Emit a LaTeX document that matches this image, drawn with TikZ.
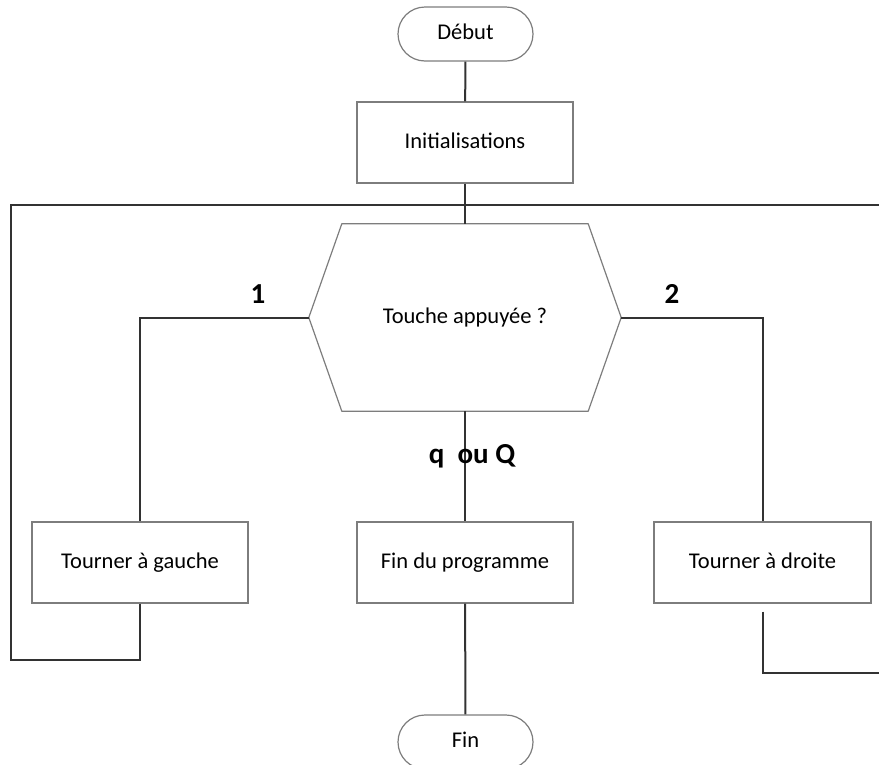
\documentclass[tikz,border=0pt]{standalone}
\usepackage{fontspec}
\setmainfont{Carlito}
\usetikzlibrary{shapes.misc, calc}

\definecolor{contour}{RGB}{125,125,125}
\definecolor{trait}{RGB}{50,50,50}

\tikzset{
  texte/.style={inner sep=0pt, text height=16pt, text depth=5pt, font=\fontsize{22.5}{27}\selectfont},
  boite/.style={texte, draw=contour, line width=1.2pt, minimum width=216pt, minimum height=81pt},
  terminal/.style={texte, rounded rectangle, draw=contour, line width=1.2pt, minimum width=135pt, minimum height=54pt},
  choix/.style={texte, minimum width=312pt, minimum height=187pt},
  cadre/.style={draw=contour, line width=1.2pt, line join=round},
  liaison/.style={draw=trait, line width=2pt},
  etiquette/.style={font=\fontsize{29}{34}\selectfont\bfseries, anchor=base}
}

\begin{document}
\begin{tikzpicture}[x=1pt, y=-1pt]

	\useasboundingbox (0,0) rectangle (879,764);

	% blocs
	\node[terminal] (debut) at (465.5,34) {Début};
	\node[boite] (init) at (465,142.5) {Initialisations};
	\node[choix] (touche) at (465,317.5) {Touche appuyée ?};
	\node[boite] (gauche) at (140,562.5) {Tourner à gauche};
	\node[boite] (arret) at (465,562.5) {Fin du programme};
	\node[boite, minimum width=217pt] (droite) at (762.5,562.5) {Tourner à droite};
	\node[terminal] (fin) at (465.5,742) {Fin};

	% hexagone du test
	\draw[cadre] (touche.west) -- ($(touche.north west)+(33,0)$) -- ($(touche.north east)+(-33,0)$)
		-- (touche.east) -- ($(touche.south east)+(-33,0)$) -- ($(touche.south west)+(33,0)$) -- cycle;

	% coins des retours
	\coordinate (retourG) at (11,660);
	\coordinate (haut) at (879,205);
	\coordinate (departD) at ($(droite.south)+(0,8)$);
	\coordinate (retourD) at (879,673);

	\draw[liaison] (debut) -- (init);
	\draw[liaison] (init) -- (touche);
	\draw[liaison] (touche.west) -| (gauche.north);
	\draw[liaison] (touche.east) -| (droite.north);
	\draw[liaison] (touche) -- (arret);
	\draw[liaison] (arret) -- (fin);
	\draw[liaison] (gauche.south) |- (retourG) |- (haut);
	\draw[liaison] (departD) |- (retourD);

	\node[etiquette] (un) at (258,303) {1};
	\node[etiquette] (deux) at (672,303) {2};
	\node[etiquette] (quitter) at (472,463) {q\ \ ou Q};

\end{tikzpicture}
\end{document}
